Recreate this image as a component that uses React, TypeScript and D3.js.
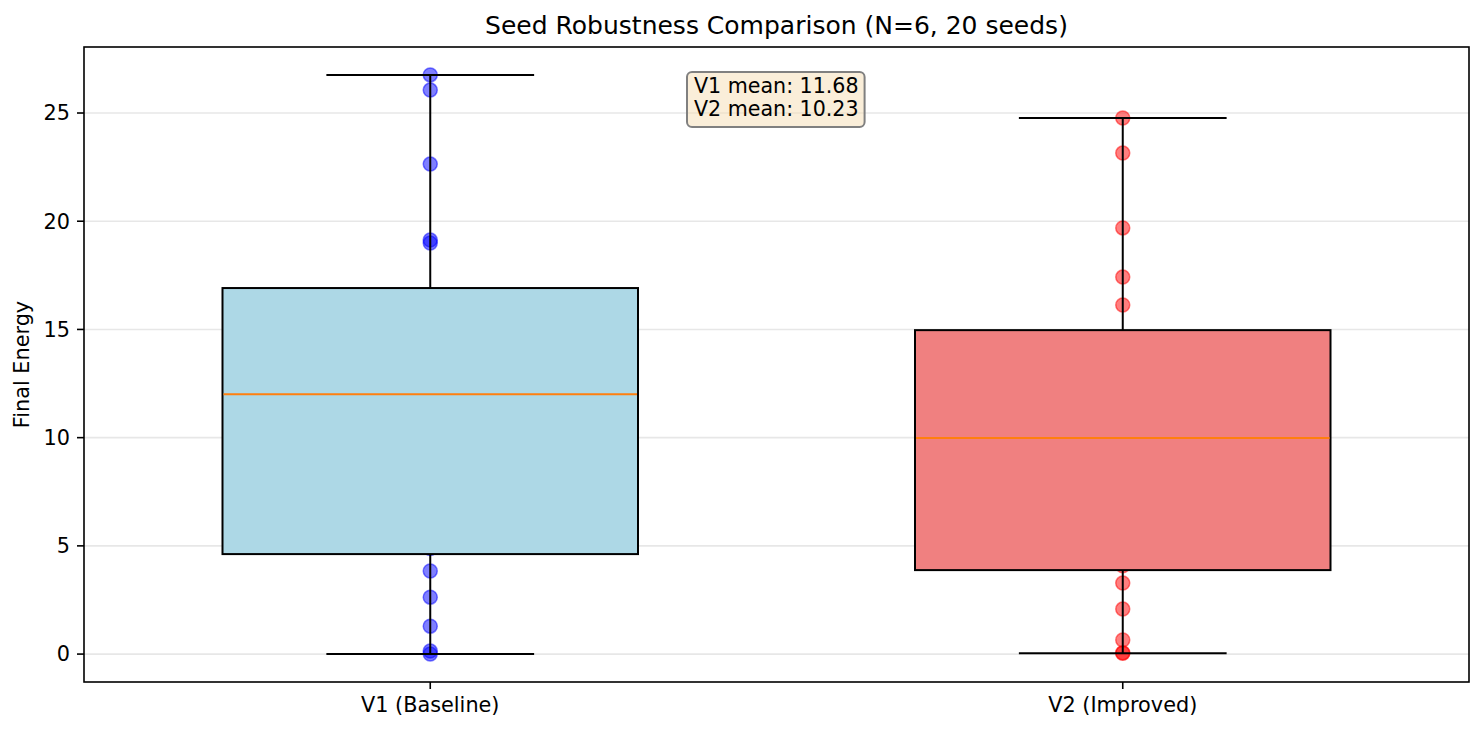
import React, { useEffect, useRef } from 'react';
import * as d3 from 'd3';

const categories = ['V1 (Baseline)', 'V2 (Improved)'];
const v1Energy = [0.0, 0.14, 1.29, 2.63, 3.84, 4.88, 6.5, 8.2, 10.1, 11.4, 12.62, 13.3, 14.1, 14.78, 16.22, 18.99, 19.13, 22.64, 26.06, 26.76];
const v2Energy = [0.04, 0.06, 0.65, 2.08, 3.28, 4.08, 5.6, 7.1, 8.4, 9.5, 10.46, 11.6, 12.6, 13.44, 14.58, 16.13, 17.42, 19.69, 23.15, 24.77];
const seriesValues = [v1Energy, v2Energy];
const boxColors = ['#add8e6', '#f08080'];
const pointColors = ['blue', 'red'];
const yTicks = [0, 5, 10, 15, 20, 25];
const meanLabels = ['V1 mean: 11.68', 'V2 mean: 10.23'];

const W = 1484;
const H = 732;
const margin = { left: 84, right: 15, top: 47, bottom: 50 };
const FONT = 'DejaVu Sans, sans-serif';

export default function App() {
  const svgRef = useRef<SVGSVGElement>(null);

  useEffect(() => {
    if (!svgRef.current) return;
    const svg = d3.select(svgRef.current);
    svg.selectAll('*').remove();

    const x0 = margin.left, x1 = W - margin.right;
    const y0 = margin.top, y1 = H - margin.bottom;

    const x = d3.scaleLinear().domain([0.5, 2.5]).range([x0, x1]);
    const y = d3.scaleLinear().domain([-1.29, 28.05]).range([y1, y0]);

    svg.append('rect').attr('width', W).attr('height', H).attr('fill', '#fff');

    // grid
    svg.append('g').selectAll('line').data(yTicks).join('line')
      .attr('x1', x0).attr('x2', x1)
      .attr('y1', d => y(d)).attr('y2', d => y(d))
      .attr('stroke', '#b0b0b0').attr('stroke-opacity', 0.3).attr('stroke-width', 1.6);

    const boxW = 0.6;

    seriesValues.forEach((vals, i) => {
      const pos = i + 1;
      const sorted = [...vals].sort((a, b) => a - b);
      const q1 = d3.quantile(sorted, 0.25)!;
      const med = d3.quantile(sorted, 0.5)!;
      const q3 = d3.quantile(sorted, 0.75)!;
      const iqr = q3 - q1;
      const lo = d3.min(sorted.filter(v => v >= q1 - 1.5 * iqr))!;
      const hi = d3.max(sorted.filter(v => v <= q3 + 1.5 * iqr))!;

      const g = svg.append('g');
      // points underneath the box
      g.selectAll('circle').data(vals).join('circle')
        .attr('cx', x(pos)).attr('cy', d => y(d)).attr('r', 7)
        .attr('fill', pointColors[i]).attr('fill-opacity', 0.5)
        .attr('stroke', pointColors[i]).attr('stroke-opacity', 0.5).attr('stroke-width', 1.5);

      // whiskers + caps
      [[lo, q1], [q3, hi]].forEach(([a, b]) => {
        g.append('line').attr('x1', x(pos)).attr('x2', x(pos))
          .attr('y1', y(a)).attr('y2', y(b)).attr('stroke', '#000').attr('stroke-width', 2);
      });
      [lo, hi].forEach(v => {
        g.append('line').attr('x1', x(pos - boxW / 4)).attr('x2', x(pos + boxW / 4))
          .attr('y1', y(v)).attr('y2', y(v)).attr('stroke', '#000').attr('stroke-width', 2);
      });
      // box
      g.append('rect')
        .attr('x', x(pos - boxW / 2)).attr('width', x(pos + boxW / 2) - x(pos - boxW / 2))
        .attr('y', y(q3)).attr('height', y(q1) - y(q3))
        .attr('fill', boxColors[i]).attr('stroke', '#000').attr('stroke-width', 2);
      g.append('line')
        .attr('x1', x(pos - boxW / 2) + 1).attr('x2', x(pos + boxW / 2) - 1)
        .attr('y1', y(med)).attr('y2', y(med))
        .attr('stroke', '#ff7f0e').attr('stroke-width', 2);
    });

    // frame
    svg.append('rect').attr('x', x0).attr('y', y0).attr('width', x1 - x0).attr('height', y1 - y0)
      .attr('fill', 'none').attr('stroke', '#000').attr('stroke-width', 1.6);

    // y axis
    const yg = svg.append('g');
    yTicks.forEach(t => {
      yg.append('line').attr('x1', x0 - 7).attr('x2', x0).attr('y1', y(t)).attr('y2', y(t))
        .attr('stroke', '#000').attr('stroke-width', 1.6);
      yg.append('text').attr('x', x0 - 14).attr('y', y(t)).attr('dy', '0.35em')
        .attr('text-anchor', 'end').attr('font-family', FONT).attr('font-size', 20.8)
        .attr('fill', '#000').text(t);
    });

    // x axis
    categories.forEach((c, i) => {
      svg.append('line').attr('x1', x(i + 1)).attr('x2', x(i + 1)).attr('y1', y1).attr('y2', y1 + 7)
        .attr('stroke', '#000').attr('stroke-width', 1.6);
      svg.append('text').attr('x', x(i + 1)).attr('y', y1 + 30)
        .attr('text-anchor', 'middle').attr('font-family', FONT).attr('font-size', 20.8)
        .attr('fill', '#000').text(c);
    });

    svg.append('text').attr('transform', `translate(29,${(y0 + y1) / 2}) rotate(-90)`)
      .attr('text-anchor', 'middle').attr('font-family', FONT).attr('font-size', 20.8)
      .text('Final Energy');

    svg.append('text').attr('x', (x0 + x1) / 2).attr('y', 34)
      .attr('text-anchor', 'middle').attr('font-family', FONT).attr('font-size', 25)
      .text('Seed Robustness Comparison (N=6, 20 seeds)');

    // mean annotation box
    const box = svg.append('rect').attr('x', 687).attr('y', 72).attr('width', 179).attr('height', 55)
      .attr('rx', 5).attr('fill', '#f5deb3').attr('fill-opacity', 0.5)
      .attr('stroke', '#808080').attr('stroke-width', 2);
    let maxLen = 0;
    meanLabels.forEach((m, i) => {
      const t = svg.append('text').attr('x', 694).attr('y', 93 + i * 23)
        .attr('font-family', FONT).attr('font-size', 20.6).attr('fill', '#000').text(m);
      maxLen = Math.max(maxLen, (t.node() as SVGTextElement).getComputedTextLength());
    });
    box.attr('width', maxLen + 13);
  }, []);

  return (
    <div style={{ position: 'absolute', left: 0, top: 0 }}>
      <svg ref={svgRef} width={W} height={H} style={{ display: 'block' }} />
    </div>
  );
}
